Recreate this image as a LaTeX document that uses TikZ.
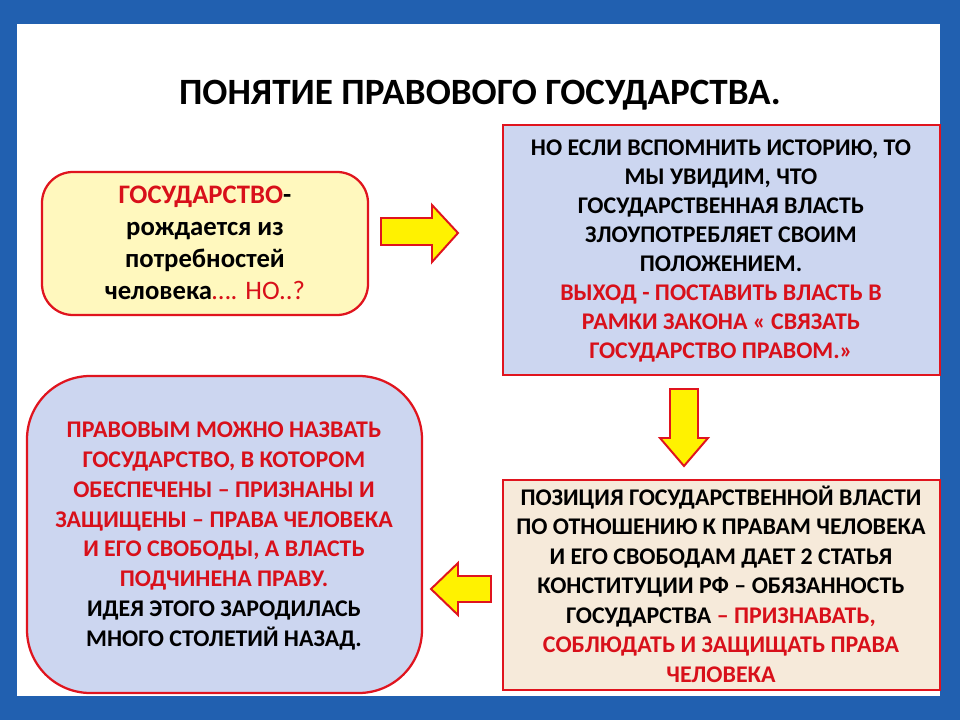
\documentclass[tikz,border=0pt]{standalone}
\usepackage{fontspec}
\setmainfont{Carlito}
\usetikzlibrary{shapes.arrows}
\definecolor{frameblue}{HTML}{2160B0}
\definecolor{boxred}{HTML}{E0141E}
\definecolor{txtred}{HTML}{D8101A}
\definecolor{paleyellow}{HTML}{FFF8BE}
\definecolor{paleblue}{HTML}{CCD6F0}
\definecolor{palebeige}{HTML}{F6EADA}
\definecolor{arrowyellow}{HTML}{FFF200}
\tikzset{
  infobox/.style={draw=boxred, line width=1.6pt, align=center, font=\bfseries},
  bigarrow/.style={draw=boxred, fill=arrowyellow, line width=1.4pt}
}
\begin{document}
\begin{tikzpicture}[x=0.025cm, y=-0.025cm]
\useasboundingbox (0,0) rectangle (960,720);
% frame and page
\fill[frameblue] (0,0) rectangle (960,720);
\fill[white] (17,24) rectangle (940,696);
\node (title) at (480,95) {\fontsize{26.4}{30}\selectfont\bfseries ПОНЯТИЕ ПРАВОВОГО ГОСУДАРСТВА.};
% boxes
\draw[infobox, fill=paleyellow, rounded corners=22] (42,172) rectangle (368,315);
\node (birth) at (205,243) [align=center, font=\bfseries\fontsize{19}{22.7}\selectfont]
  {\textcolor{txtred}{ГОСУДАРСТВО}-\\рождается из\\потребностей\\человека\textcolor{txtred}{\mdseries…. НО..?}};
\draw[infobox, fill=paleblue] (503,125) rectangle (940,375);
\node (history) at (721,251) [align=center, font=\bfseries\fontsize{17}{20.6}\selectfont]
  {НО ЕСЛИ ВСПОМНИТЬ ИСТОРИЮ, ТО\\МЫ УВИДИМ, ЧТО\\ГОСУДАРСТВЕННАЯ ВЛАСТЬ\\ЗЛОУПОТРЕБЛЯЕТ СВОИМ\\ПОЛОЖЕНИЕМ.\\
  \textcolor{txtred}{ВЫХОД - ПОСТАВИТЬ ВЛАСТЬ В}\\\textcolor{txtred}{РАМКИ ЗАКОНА « СВЯЗАТЬ}\\\textcolor{txtred}{ГОСУДАРСТВО ПРАВОМ.»}};
\draw[infobox, fill=palebeige] (503,480) rectangle (940,690);
\node (position) at (721,584) [align=center, font=\bfseries\fontsize{17}{21}\selectfont]
  {ПОЗИЦИЯ ГОСУДАРСТВЕННОЙ ВЛАСТИ\\ПО ОТНОШЕНИЮ К ПРАВАМ ЧЕЛОВЕКА\\И ЕГО СВОБОДАМ ДАЕТ 2 СТАТЬЯ\\КОНСТИТУЦИИ РФ – ОБЯЗАННОСТЬ\\
  ГОСУДАРСТВА \textcolor{txtred}{– ПРИЗНАВАТЬ,}\\\textcolor{txtred}{СОБЛЮДАТЬ И ЗАЩИЩАТЬ ПРАВА}\\\textcolor{txtred}{ЧЕЛОВЕКА}};
\draw[infobox, fill=paleblue, rounded corners=45] (27,376) rectangle (422,693);
\node (legal) at (224,536) [align=center, font=\bfseries\fontsize{17}{21.2}\selectfont]
  {\textcolor{txtred}{ПРАВОВЫМ МОЖНО НАЗВАТЬ}\\\textcolor{txtred}{ГОСУДАРСТВО, В КОТОРОМ}\\\textcolor{txtred}{ОБЕСПЕЧЕНЫ – ПРИЗНАНЫ И}\\
  \textcolor{txtred}{ЗАЩИЩЕНЫ – ПРАВА ЧЕЛОВЕКА}\\\textcolor{txtred}{И ЕГО СВОБОДЫ, А ВЛАСТЬ}\\\textcolor{txtred}{ПОДЧИНЕНА ПРАВУ.}\\
  ИДЕЯ ЭТОГО ЗАРОДИЛАСЬ\\МНОГО СТОЛЕТИЙ НАЗАД.};
% arrows
\draw[bigarrow] (381,218) -- (432,218) -- (432,205) -- (458,233) -- (432,262) -- (432,245) -- (381,245) -- cycle;
\draw[bigarrow] (670,389) -- (698,389) -- (698,438) -- (708,438) -- (684,466) -- (660,438) -- (670,438) -- cycle;
\draw[bigarrow] (491,576) -- (458,576) -- (458,563) -- (431,589) -- (458,615) -- (458,602) -- (491,602) -- cycle;
\end{tikzpicture}
\end{document}
